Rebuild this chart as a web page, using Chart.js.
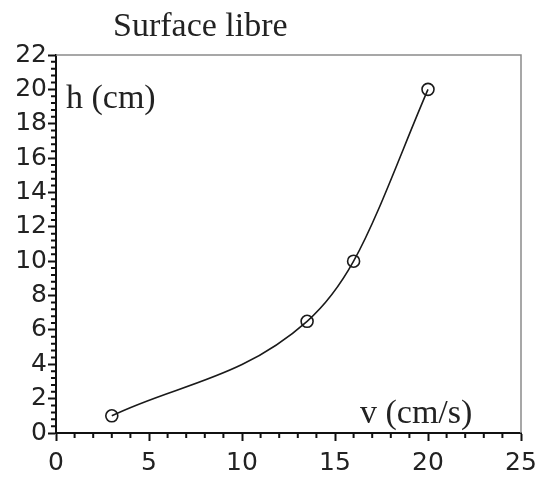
<!DOCTYPE html>
<html>
<head>
<meta charset="utf-8">
<script src="https://cdn.jsdelivr.net/npm/chart.js@4"></script>
<style>
  html, body { margin: 0; padding: 0; background: #fff; }
  #wrap { width: 535px; height: 477px; }
</style>
</head>
<body>
<div id="wrap"><canvas id="myChart" width="535" height="477"></canvas></div>
<script>
// data
const vValues = [3, 13.5, 16, 20];
const hValues = [1, 6.5, 10, 20];
const xMajorTicks = [0, 5, 10, 15, 20, 25];
const yMajorTicks = [0, 2, 4, 6, 8, 10, 12, 14, 16, 18, 20, 22];
const titleText = 'Surface libre';
const yLabelText = 'h (cm)';
const xLabelText = 'v (cm/s)';

const points = vValues.map((v, i) => ({ x: v, y: hValues[i] }));

// minor ticks + frame + inside labels
const extras = {
  id: 'extras',
  afterDraw(chart) {
    const ctx = chart.ctx;
    const a = chart.chartArea;
    const xs = chart.scales.x, ys = chart.scales.y;
    ctx.save();
    // grey top/right frame
    ctx.strokeStyle = '#8a8a8a';
    ctx.lineWidth = 1.5;
    ctx.beginPath();
    ctx.moveTo(a.left, a.top);
    ctx.lineTo(a.right, a.top);
    ctx.lineTo(a.right, a.bottom);
    ctx.stroke();
    // minor ticks
    ctx.strokeStyle = '#111';
    ctx.lineWidth = 2;
    ctx.beginPath();
    for (let v = 1; v < 25; v++) {
      if (v % 5 === 0) continue;
      const px = xs.getPixelForValue(v);
      ctx.moveTo(px, a.bottom);
      ctx.lineTo(px, a.bottom + 5);
    }
    for (let k = 1; k < 55; k++) {
      if (k % 5 === 0) continue;
      const py = ys.getPixelForValue(k * 0.4);
      ctx.moveTo(a.left, py);
      ctx.lineTo(a.left - 5, py);
    }
    ctx.stroke();
    // texts
    ctx.fillStyle = '#222';
    ctx.font = '34px "Liberation Serif", "Times New Roman", serif';
    ctx.textBaseline = 'alphabetic';
    ctx.textAlign = 'left';
    ctx.fillText(titleText, 113, 36);
    ctx.fillText(yLabelText, 66, 108);
    ctx.fillText(xLabelText, 360, 423);
    ctx.restore();
  }
};

const ctx = document.getElementById('myChart').getContext('2d');
const myChart = new Chart(ctx, {
  type: 'scatter',
  data: {
    datasets: [{
      data: points,
      showLine: true,
      cubicInterpolationMode: 'monotone',
      borderColor: '#1a1a1a',
      borderWidth: 1.6,
      pointRadius: 6,
      pointHoverRadius: 6,
      pointBorderWidth: 1.6,
      pointBorderColor: '#1a1a1a',
      pointBackgroundColor: 'rgba(255,255,255,0)'
    }]
  },
  options: {
    responsive: false,
    animation: false,
    layout: { padding: { left: 0, right: 14, top: 55, bottom: 0 } },
    plugins: {
      legend: { display: false },
      tooltip: { enabled: false },
      title: { display: false }
    },
    scales: {
      x: {
        type: 'linear',
        min: 0, max: 25,
        afterFit(scale) { scale.height = 44; scale.paddingLeft = 0; scale.paddingRight = 0; },
        afterBuildTicks(scale) { scale.ticks = xMajorTicks.map(v => ({ value: v })); },
        ticks: { color: '#222', font: { family: 'DejaVu Sans', size: 25 }, padding: 7 },
        grid: { drawOnChartArea: false, tickLength: 8, tickColor: '#111', tickWidth: 2 },
        border: { color: '#111', width: 2 }
      },
      y: {
        type: 'linear',
        min: 0, max: 22,
        afterFit(scale) { scale.width = 56; scale.paddingTop = 0; scale.paddingBottom = 0; },
        afterBuildTicks(scale) { scale.ticks = yMajorTicks.map(v => ({ value: v })); },
        ticks: { color: '#222', font: { family: 'DejaVu Sans', size: 25 }, padding: 1 },
        grid: { drawOnChartArea: false, tickLength: 8, tickColor: '#111', tickWidth: 2 },
        border: { color: '#111', width: 2 }
      }
    }
  },
  plugins: [extras]
});
</script>
</body>
</html>
